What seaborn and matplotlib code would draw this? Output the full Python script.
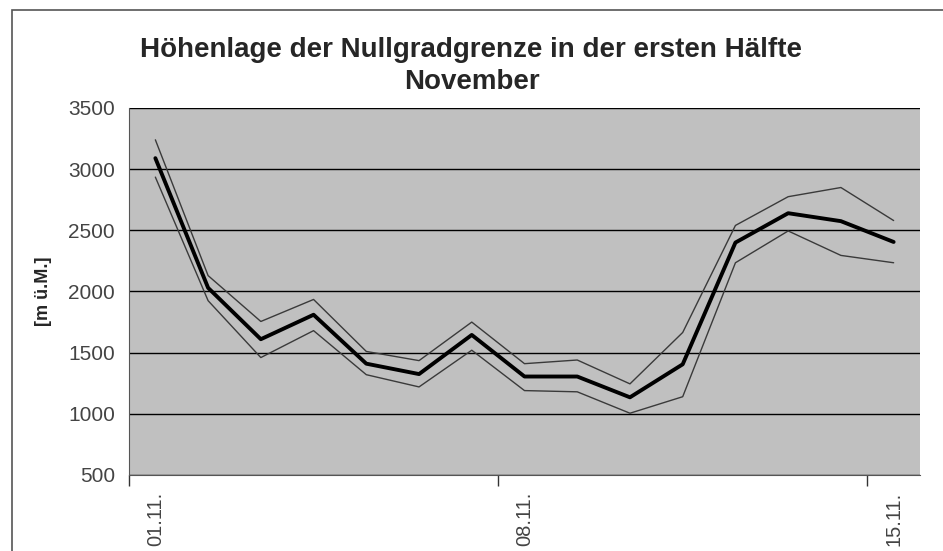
import numpy as np
import pandas as pd
import matplotlib.pyplot as plt
import seaborn as sns
from matplotlib.patches import Rectangle

# ------------------------------------------------------------------
# Daten: Nullgradgrenze 1.-15. November (Mittel, obere/untere Grenze)
# ------------------------------------------------------------------
tage = ['01.11.', '02.11.', '03.11.', '04.11.', '05.11.', '06.11.', '07.11.',
        '08.11.', '09.11.', '10.11.', '11.11.', '12.11.', '13.11.', '14.11.', '15.11.']
mittel = [3090, 2030, 1610, 1810, 1410, 1325, 1645, 1305, 1305, 1135, 1405, 2400, 2640, 2575, 2405]
oben = [3240, 2130, 1755, 1935, 1510, 1435, 1750, 1410, 1440, 1245, 1665, 2540, 2775, 2850, 2580]
unten = [2935, 1925, 1460, 1680, 1320, 1220, 1520, 1190, 1180, 1005, 1140, 2235, 2495, 2295, 2235]
beschriftete_tage = ['01.11.', '08.11.', '15.11.']

df = pd.DataFrame({'tag': np.arange(len(tage)), 'mittel': mittel,
                   'oben': oben, 'unten': unten})

sns.set_style('white')
plt.rcParams['font.family'] = ['Liberation Sans', 'DejaVu Sans']

fig = plt.figure(figsize=(9.43, 5.51), dpi=100)

# Rahmen um den Diagrammbereich (rechts/unten abgeschnitten)
fig.patches.append(Rectangle((12 / 943, -0.1), 1.1, 1 - 10 / 551 + 0.1,
                             transform=fig.transFigure, fill=False,
                             edgecolor='#555555', lw=1.2))

ax = fig.add_axes([129 / 943, 76 / 551, 791 / 943, 367 / 551])
ax.set_facecolor('#c0c0c0')

sns.lineplot(data=df, x='tag', y='oben', ax=ax, color='#3a3a3a', lw=1)
sns.lineplot(data=df, x='tag', y='unten', ax=ax, color='#3a3a3a', lw=1)
sns.lineplot(data=df, x='tag', y='mittel', ax=ax, color='black', lw=2.8)

ax.set_xlim(-0.5, len(tage) - 0.5)
ax.set_ylim(500, 3500)
ax.set_yticks(range(500, 3501, 500))
ax.yaxis.grid(True, color='black', lw=1)
ax.xaxis.grid(False)
ax.set_axisbelow(True)

pos = [tage.index(t) for t in beschriftete_tage]
ax.set_xticks(pos)
ax.set_xticklabels(beschriftete_tage, rotation=90, va='top', color='#444444', fontsize=14.5)
ax.set_xticks(np.arange(-0.5, len(tage), 1), minor=True)
ax.tick_params(axis='x', which='major', length=0, pad=12)
ax.tick_params(axis='x', which='minor', length=4, direction='in', color='#333333', width=1)
ax.tick_params(axis='y', length=6, direction='out', color='#333333', width=1,
               labelsize=15, labelcolor='#444444', pad=4)

# lange Teilstriche an den Wochengrenzen
sec = ax.secondary_xaxis('bottom')
sec.set_xticks([p - 0.5 for p in pos])
sec.set_xticklabels([''] * len(pos))
sec.tick_params(length=8, direction='out', color='#333333', width=1)
sec.spines['bottom'].set_visible(False)

for s in ['top', 'right']:
    ax.spines[s].set_visible(False)
ax.spines['left'].set_color('#555555')
ax.spines['bottom'].set_color('#555555')

ax.set_xlabel('')
ax.set_ylabel('[m ü.M.]', fontsize=13, fontweight='bold', labelpad=12)

fig.text(0.50, 1 - 66 / 551, 'Höhenlage der Nullgradgrenze in der ersten Hälfte\nNovember',
         ha='center', va='center', fontsize=20, fontweight='bold', linespacing=1.33)

fig.savefig('out.png', dpi=100)
